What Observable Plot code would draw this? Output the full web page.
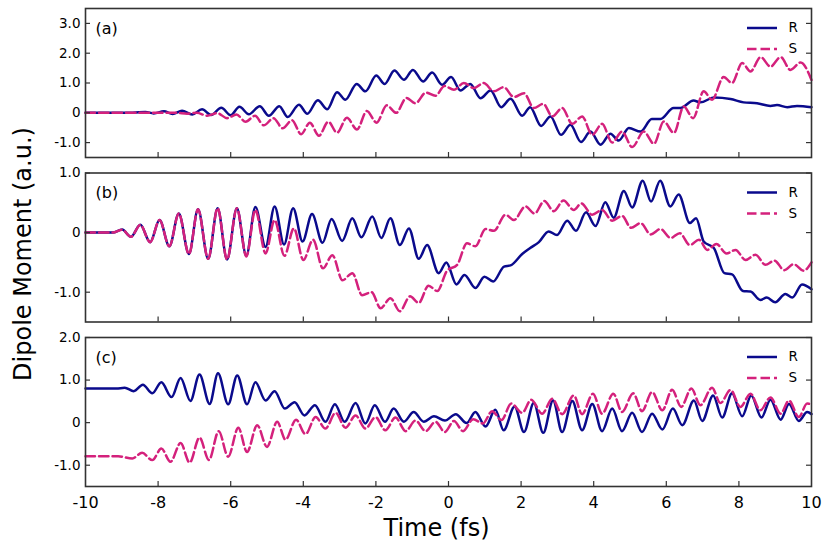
<!DOCTYPE html>
<html><head><meta charset="utf-8">
<script src="https://cdn.jsdelivr.net/npm/d3@7"></script>
<script src="https://cdn.jsdelivr.net/npm/@observablehq/plot@0.6"></script>
<style>
html,body{margin:0;padding:0;background:#fff;}
#chart{position:relative;width:830px;height:547px;font-family:"DejaVu Sans",sans-serif;overflow:hidden;}
#chart svg{display:block;}
#ylabel{position:absolute;left:22.5px;top:254px;transform:translate(-50%,-50%) rotate(-90deg);white-space:nowrap;font-size:24px;line-height:1;color:#000;font-family:"DejaVu Sans",sans-serif;}
</style></head><body><div id="chart"><div id="ylabel">Dipole Moment (a.u.)</div></div>
<script>
// ---- data: [time (fs), dipole moment (a.u.)] ----
const ra = [[-10,0],[-8.7,0],[-8.35,0.03],[-8.12,-0.02],[-7.84,0.05],[-7.6,-0.04],[-7.34,0.07],[-7.06,-0.06],[-6.79,0.12],[-6.54,-0.07],[-6.26,0.17],[-6.0,-0.08],[-5.76,0.2],[-5.5,-0.05],[-5.2,0.22],[-4.95,-0.1],[-4.66,0.22],[-4.43,-0.14],[-4.12,0.27],[-3.89,-0.03],[-3.6,0.42],[-3.34,0.12],[-3.07,0.69],[-2.84,0.44],[-2.53,0.97],[-2.29,0.72],[-1.99,1.25],[-1.76,0.97],[-1.49,1.42],[-1.23,1.11],[-0.98,1.44],[-0.70,1.05],[-0.45,1.35],[-0.18,0.94],[0.07,1.2],[0.33,0.75],[0.60,0.97],[0.88,0.49],[1.16,0.75],[1.45,0.19],[1.71,0.47],[2.03,-0.1],[2.25,0.19],[2.55,-0.44],[2.81,-0.12],[3.10,-0.74],[3.36,-0.4],[3.65,-0.98],[3.91,-0.63],[4.19,-1.07],[4.46,-0.7],[4.69,-0.93],[4.97,-0.51],[5.29,-0.63],[5.6,-0.21],[5.84,-0.21],[6.2,0.16],[6.39,0.16],[6.75,0.41],[6.94,0.35],[7.31,0.51],[7.77,0.46],[8.13,0.35],[8.5,0.32],[8.87,0.23],[9.05,0.26],[9.33,0.19],[9.6,0.23],[10,0.19]];
const sa = [[-10,0],[-7.5,0],[-7.2,-0.03],[-6.93,0.0],[-6.65,-0.1],[-6.37,-0.01],[-6.1,-0.18],[-5.84,-0.06],[-5.59,-0.3],[-5.33,-0.1],[-5.09,-0.42],[-4.82,-0.18],[-4.57,-0.52],[-4.31,-0.25],[-4.06,-0.72],[-3.82,-0.33],[-3.57,-0.77],[-3.31,-0.3],[-3.07,-0.67],[-2.8,-0.17],[-2.52,-0.56],[-2.25,0.06],[-1.98,-0.33],[-1.7,0.25],[-1.44,0.0],[-1.16,0.5],[-0.91,0.32],[-0.62,0.68],[-0.36,0.57],[-0.11,0.9],[0.15,0.77],[0.42,1.0],[0.70,0.83],[0.97,1.0],[1.25,0.72],[1.52,0.86],[1.80,0.53],[2.08,0.66],[2.35,0.16],[2.61,0.30],[2.86,-0.12],[3.13,0.16],[3.41,-0.37],[3.68,-0.12],[3.96,-0.74],[4.23,-0.37],[4.51,-1.0],[4.78,-0.63],[5.06,-1.15],[5.38,-0.63],[5.66,-1.04],[5.93,-0.29],[6.21,-0.68],[6.48,0.21],[6.74,-0.18],[7.03,0.72],[7.26,0.44],[7.58,1.2],[7.81,1.0],[8.09,1.67],[8.32,1.39],[8.60,1.87],[8.87,1.55],[9.15,1.87],[9.42,1.44],[9.70,1.69],[10,1.1]];
const rb = [[-10,0],[-9.25,0],[-8.99,0.05],[-8.75,-0.07],[-8.49,0.13],[-8.22,-0.16],[-7.96,0.21],[-7.69,-0.23],[-7.43,0.32],[-7.15,-0.36],[-6.9,0.39],[-6.62,-0.44],[-6.36,0.41],[-6.1,-0.45],[-5.83,0.41],[-5.57,-0.39],[-5.32,0.43],[-5.04,-0.24],[-4.79,0.44],[-4.53,-0.2],[-4.28,0.41],[-4.02,-0.15],[-3.76,0.31],[-3.47,-0.17],[-3.22,0.23],[-2.93,-0.14],[-2.65,0.24],[-2.4,-0.08],[-2.1,0.27],[-1.85,-0.09],[-1.6,0.24],[-1.34,-0.21],[-1.09,0.07],[-0.82,-0.44],[-0.59,-0.21],[-0.27,-0.68],[-0.06,-0.5],[0.22,-0.87],[0.44,-0.71],[0.74,-0.93],[0.99,-0.74],[1.23,-0.82],[1.53,-0.57],[1.71,-0.55],[2.03,-0.36],[2.25,-0.26],[2.49,-0.16],[2.76,0.02],[2.99,-0.04],[3.27,0.2],[3.51,0.03],[3.79,0.34],[4.05,0.11],[4.32,0.51],[4.55,0.25],[4.83,0.7],[5.06,0.42],[5.35,0.87],[5.58,0.52],[5.83,0.87],[6.11,0.44],[6.34,0.64],[6.65,0.16],[6.82,0.24],[7.03,-0.15],[7.31,-0.26],[7.6,-0.68],[7.81,-0.7],[8.11,-0.98],[8.32,-0.99],[8.59,-1.13],[8.77,-1.09],[9.0,-1.17],[9.28,-1.03],[9.47,-1.09],[9.74,-0.87],[10,-0.95]];
const sb = [[-10,0],[-9.25,0],[-8.99,0.05],[-8.75,-0.07],[-8.49,0.13],[-8.22,-0.16],[-7.96,0.21],[-7.69,-0.23],[-7.43,0.32],[-7.15,-0.36],[-6.9,0.39],[-6.62,-0.44],[-6.36,0.41],[-6.1,-0.45],[-5.83,0.41],[-5.57,-0.40],[-5.32,0.38],[-5.04,-0.35],[-4.79,0.21],[-4.52,-0.39],[-4.26,0.07],[-4.0,-0.46],[-3.73,-0.12],[-3.46,-0.6],[-3.2,-0.38],[-2.92,-0.8],[-2.65,-0.68],[-2.38,-1.05],[-2.12,-1.0],[-1.87,-1.27],[-1.6,-1.1],[-1.34,-1.32],[-1.06,-1.07],[-0.82,-1.18],[-0.55,-0.89],[-0.31,-0.98],[-0.04,-0.64],[0.24,-0.54],[0.51,-0.18],[0.74,-0.23],[1.02,0.06],[1.25,0.03],[1.57,0.30],[1.80,0.21],[2.12,0.44],[2.37,0.32],[2.64,0.53],[2.90,0.36],[3.17,0.54],[3.45,0.38],[3.66,0.49],[3.96,0.30],[4.23,0.38],[4.51,0.20],[4.78,0.28],[5.03,0.08],[5.29,0.16],[5.57,-0.03],[5.84,0.06],[6.12,-0.09],[6.37,-0.01],[6.65,-0.21],[6.90,-0.12],[7.13,-0.29],[7.38,-0.19],[7.66,-0.35],[7.91,-0.29],[8.18,-0.46],[8.46,-0.37],[8.73,-0.54],[8.98,-0.47],[9.25,-0.63],[9.51,-0.53],[9.78,-0.64],[10,-0.5]];
const rc = [[-10,0.8],[-9.15,0.8],[-8.92,0.82],[-8.67,0.74],[-8.42,0.89],[-8.16,0.69],[-7.91,0.95],[-7.63,0.6],[-7.38,1.05],[-7.11,0.51],[-6.86,1.13],[-6.58,0.44],[-6.35,1.16],[-6.07,0.43],[-5.82,1.11],[-5.55,0.43],[-5.32,0.95],[-5.04,0.52],[-4.79,0.74],[-4.51,0.33],[-4.24,0.48],[-3.97,0.17],[-3.68,0.41],[-3.39,0.02],[-3.13,0.43],[-2.86,0.02],[-2.56,0.46],[-2.29,-0.02],[-2.03,0.41],[-1.75,0.02],[-1.51,0.33],[-1.23,0.02],[-0.96,0.25],[-0.68,0.02],[-0.4,0.15],[-0.1,0.05],[0.2,0.2],[0.5,-0.01],[0.74,0.25],[1.02,-0.09],[1.29,0.30],[1.52,-0.18],[1.82,0.38],[2.08,-0.22],[2.35,0.46],[2.61,-0.24],[2.88,0.52],[3.13,-0.22],[3.41,0.51],[3.68,-0.18],[3.96,0.44],[4.23,-0.20],[4.51,0.33],[4.78,-0.20],[5.06,0.23],[5.33,-0.22],[5.61,0.21],[5.89,-0.16],[6.18,0.33],[6.44,-0.06],[6.76,0.52],[6.99,0.04],[7.29,0.64],[7.54,0.12],[7.81,0.69],[8.09,0.15],[8.34,0.64],[8.62,0.12],[8.87,0.54],[9.15,0.07],[9.38,0.44],[9.65,0.04],[9.88,0.25],[10,0.2]];
const sc = [[-10,-0.79],[-9.1,-0.79],[-8.71,-0.84],[-8.44,-0.71],[-8.16,-0.88],[-7.91,-0.61],[-7.66,-0.92],[-7.38,-0.48],[-7.13,-0.94],[-6.86,-0.35],[-6.6,-0.88],[-6.33,-0.2],[-6.07,-0.8],[-5.79,-0.12],[-5.55,-0.69],[-5.27,-0.06],[-5.0,-0.57],[-4.72,0.02],[-4.49,-0.4],[-4.2,0.07],[-3.94,-0.27],[-3.66,0.13],[-3.39,-0.14],[-3.11,0.23],[-2.84,-0.12],[-2.56,0.17],[-2.29,-0.14],[-2.01,0.13],[-1.74,-0.18],[-1.46,0.12],[-1.18,-0.2],[-0.91,0.05],[-0.63,-0.2],[-0.36,0.02],[-0.1,-0.22],[0.15,0.04],[0.4,-0.2],[0.68,0.08],[0.95,-0.02],[1.2,0.27],[1.46,0.06],[1.73,0.45],[2.03,0.23],[2.28,0.54],[2.58,0.21],[2.86,0.56],[3.13,0.2],[3.45,0.64],[3.68,0.2],[3.98,0.68],[4.23,0.21],[4.54,0.68],[4.78,0.25],[5.09,0.69],[5.33,0.27],[5.61,0.72],[5.89,0.29],[6.16,0.77],[6.41,0.37],[6.69,0.80],[6.94,0.41],[7.26,0.82],[7.49,0.46],[7.77,0.77],[8.04,0.37],[8.32,0.68],[8.59,0.29],[8.87,0.59],[9.15,0.21],[9.38,0.52],[9.65,0.13],[9.88,0.45],[10,0.42]];

const yTicksA = [-1, 0, 1, 2, 3];
const yTicksB = [-1, 0, 1];
const yTicksC = [-1, 0, 1, 2];
const xTickLabels = [-10, -8, -6, -4, -2, 0, 2, 4, 6, 8, 10];
const xInnerTicks = [-8, -6, -4, -2, 2, 4, 6, 8, 0];
const seriesNames = ["R", "S"];
const panelLabels = ["(a)", "(b)", "(c)"];

const NAVY = "#0a0a8c";
const PINK = "#d4217c";
const FRAME = "#333333";
const W = 830, ML = 85, MR = 19;
const PW = W - ML - MR;

const fmtY = d => d === 0 ? "0" : d.toFixed(1);

function panel({r, s, yDomain, yTicks, label, height, top, bottom, showX}) {
  const ph = height - top - bottom;
  const lineOpts = {x: d => d[0], y: d => d[1], strokeWidth: 2.5, curve: "monotone-x"};
  const marks = [
    Plot.line(r, {...lineOpts, stroke: NAVY}),
    Plot.line(s, {...lineOpts, stroke: PINK, strokeDasharray: "9.5,4"}),
    Plot.ruleY(yTicks, {stroke: FRAME, strokeWidth: 1.2, insetRight: PW - 5}),
    Plot.ruleY(yTicks, {stroke: FRAME, strokeWidth: 1.2, insetLeft: PW - 5}),
    Plot.ruleX(xInnerTicks, {stroke: FRAME, strokeWidth: 1.2, insetTop: ph - 5}),
    Plot.frame({stroke: FRAME, strokeWidth: 1.6}),
    Plot.axisY({ticks: yTicks, anchor: "left", tickSize: 0, tickPadding: 5, tickFormat: fmtY, label: null, fontSize: 13.5}),
    Plot.text([label], {text: d => d, frameAnchor: "top-left", dx: 10, dy: 20, textAnchor: "start", lineAnchor: "middle", fontSize: 16}),
    Plot.ruleY([yDomain[1]], {dy: 19.5, insetLeft: 662, insetRight: 34, stroke: NAVY, strokeWidth: 2.5}),
    Plot.ruleY([yDomain[1]], {dy: 40.5, insetLeft: 662, insetRight: 34, stroke: PINK, strokeWidth: 2.5, strokeDasharray: "9.5,4"}),
    Plot.text([seriesNames[0]], {text: d => d, frameAnchor: "top-right", dx: -23, dy: 19.5, textAnchor: "start", lineAnchor: "middle", fontSize: 13.5}),
    Plot.text([seriesNames[1]], {text: d => d, frameAnchor: "top-right", dx: -23, dy: 40.5, textAnchor: "start", lineAnchor: "middle", fontSize: 13.5})
  ];
  if (showX) {
    marks.push(Plot.axisX({ticks: xTickLabels, anchor: "bottom", tickSize: 0, tickPadding: 10, tickFormat: d => String(d), label: null, fontSize: 16}));
    marks.push(Plot.text(["Time (fs)"], {text: d => d, frameAnchor: "bottom", dx: -12, dy: 42, lineAnchor: "middle", fontSize: 24}));
  }
  return Plot.plot({
    width: W, height, marginLeft: ML, marginRight: MR, marginTop: top, marginBottom: bottom,
    style: {fontFamily: "DejaVu Sans", background: "transparent", color: "#000", overflow: "visible"},
    x: {domain: [-10, 10], axis: showX ? undefined : null},
    y: {domain: yDomain},
    marks
  });
}

const chart = document.getElementById("chart");
chart.appendChild(panel({r: ra, s: sa, yDomain: [-1.5, 3.5], yTicks: yTicksA, label: panelLabels[0], height: 165, top: 8, bottom: 8, showX: false}));
chart.appendChild(panel({r: rb, s: sb, yDomain: [-1.5, 1.0], yTicks: yTicksB, label: panelLabels[1], height: 165, top: 7.5, bottom: 8.5, showX: false}));
chart.appendChild(panel({r: rc, s: sc, yDomain: [-1.5, 2.0], yTicks: yTicksC, label: panelLabels[2], height: 217, top: 7, bottom: 61, showX: true}));
</script></body></html>
